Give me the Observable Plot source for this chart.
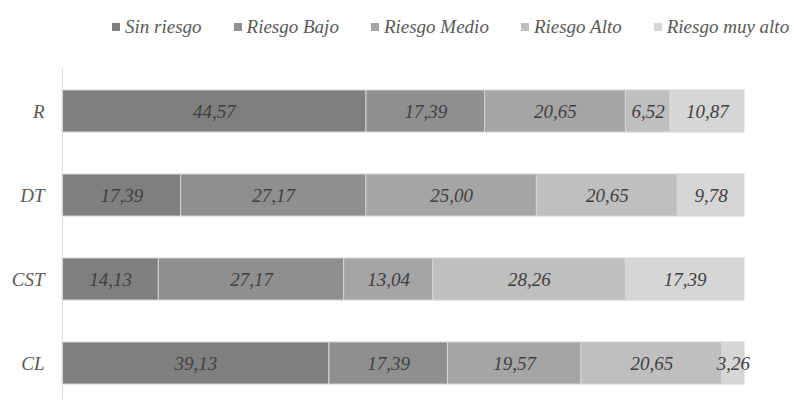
<!DOCTYPE html>
<html>
<head>
<meta charset="utf-8">
<script src="https://cdn.jsdelivr.net/npm/d3@7"></script>
<script src="https://cdn.jsdelivr.net/npm/@observablehq/plot@0.6"></script>
<style>
  html, body { margin: 0; padding: 0; background: #fff; }
  #legend { height: 68px; box-sizing: border-box; padding-top: 17px; padding-left: 112px;
    display: flex; align-items: flex-start; gap: 32px;
    font-family: "Liberation Serif", "Times New Roman", Times, "DejaVu Serif", serif; font-style: italic;
    font-size: 19px; line-height: 20px; color: #595959; white-space: nowrap; }
  #legend .item { display: flex; align-items: center; height: 20px; }
  #legend .sw { width: 8px; height: 8px; margin-right: 5px; display: inline-block; }
</style>
</head>
<body>
<div id="legend"></div>
<div id="chart"></div>
<script>
const categories = ["R", "DT", "CST", "CL"];
const series = ["Sin riesgo", "Riesgo Bajo", "Riesgo Medio", "Riesgo Alto", "Riesgo muy alto"];
const colors = ["#7f7f7f", "#8f8f8f", "#a5a5a5", "#bfbfbf", "#d6d6d6"];
const valuesR   = [44.57, 17.39, 20.65, 6.52, 10.87];
const valuesDT  = [17.39, 27.17, 25.00, 20.65, 9.78];
const valuesCST = [14.13, 27.17, 13.04, 28.26, 17.39];
const valuesCL  = [39.13, 17.39, 19.57, 20.65, 3.26];

const rows = [valuesR, valuesDT, valuesCST, valuesCL];
const data = [];
categories.forEach((c, i) => rows[i].forEach((v, j) => data.push({cat: c, risk: series[j], value: v})));

const fmt = v => v.toFixed(2).replace(".", ",");
const serifFont = '"Liberation Serif", "Times New Roman", Times, "DejaVu Serif", serif';

const legend = document.getElementById("legend");
series.forEach((s, j) => {
  const it = document.createElement("span");
  it.className = "item";
  it.innerHTML = `<span class="sw" style="background:${colors[j]}"></span>${s}`;
  legend.appendChild(it);
});

const chart = Plot.plot({
  width: 794,
  height: 337,
  marginTop: 0,
  marginBottom: 0,
  marginLeft: 62,
  marginRight: 50,
  style: {fontFamily: serifFont, fontStyle: "italic", fontSize: "19px", color: "#595959", background: "#fff"},
  x: {domain: [0, 100], axis: null},
  y: {domain: categories, paddingInner: 0.5, paddingOuter: 0.25, label: null, tickSize: 0, tickPadding: 18},
  color: {domain: series, range: colors},
  marks: [
    Plot.barX(data, {x: "value", y: "cat", fill: "risk", z: "risk", stroke: "#d4d4d4", strokeWidth: 1}),
    Plot.text(data, Plot.stackX({x: "value", y: "cat", z: "risk", text: d => fmt(d.value),
      fill: "#404040", fontSize: 19, fontStyle: "italic", fontFamily: serifFont})),
    Plot.ruleX([0], {stroke: "#d9d9d9"})
  ]
});
document.getElementById("chart").appendChild(chart);
</script>
</body>
</html>
